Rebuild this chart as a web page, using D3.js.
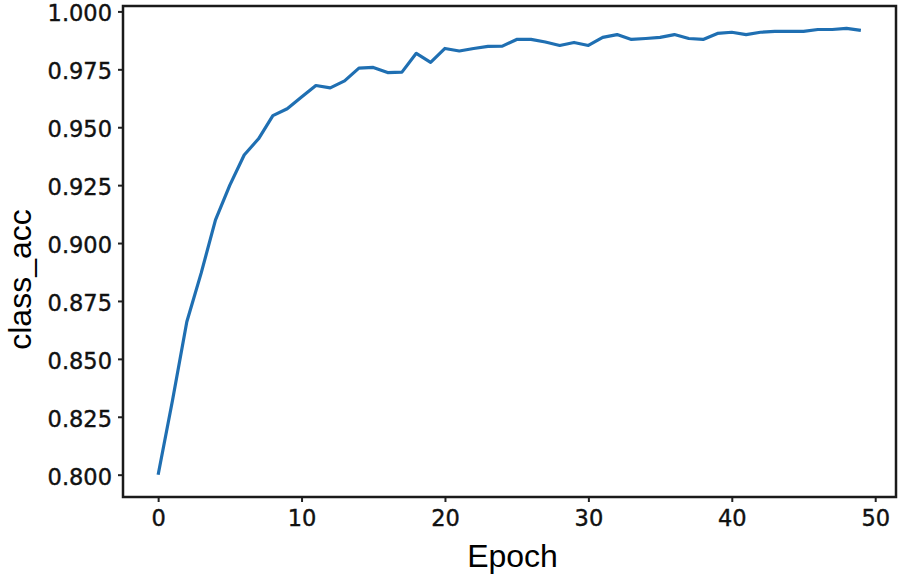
<!DOCTYPE html>
<html>
<head>
<meta charset="utf-8">
<script src="https://cdn.jsdelivr.net/npm/d3@7"></script>
<style>
  body { margin: 0; background: #fff; }
  .tick text { font-family: "DejaVu Sans", sans-serif; font-size: 22.5px; fill: #111; stroke: #111; stroke-width: 0.4px; }
  .lbl { font-family: "Liberation Sans", Arial, sans-serif; font-size: 32px; fill: #000; }
</style>
</head>
<body>
<div id="chart"></div>
<script>
// epoch numbers and accuracy per epoch
const epochs = d3.range(0, 50);
const classAcc = [
  0.800, 0.832, 0.866, 0.887, 0.910, 0.925, 0.938, 0.945, 0.955, 0.958,
  0.963, 0.968, 0.967, 0.970, 0.9755, 0.9758, 0.9736, 0.9738, 0.9819, 0.978,
  0.984, 0.9829, 0.984, 0.9849, 0.985, 0.9879, 0.9879, 0.9868, 0.9853, 0.9866,
  0.9853, 0.9888, 0.990, 0.9879, 0.9883, 0.9888, 0.990, 0.9883, 0.9879, 0.9905,
  0.991, 0.990, 0.991, 0.9914, 0.9914, 0.9914, 0.9922, 0.9922, 0.9927, 0.9918
];
const xTicks = [0, 10, 20, 30, 40, 50];
const yTicks = [0.800, 0.825, 0.850, 0.875, 0.900, 0.925, 0.950, 0.975, 1.000];

const W = 902, H = 579;
const margin = {top: 6, right: 6, bottom: 82, left: 123},
    width = W - margin.left - margin.right,
    height = H - margin.top - margin.bottom;

const svg = d3.select("#chart").append("svg").attr("width", W).attr("height", H);
const g = svg.append("g").attr("transform", `translate(${margin.left},${margin.top})`);

// matplotlib-style 5% padding on both axes
const xPad = (d3.max(epochs) - d3.min(epochs)) * 0.05;
const x = d3.scaleLinear().domain([d3.min(epochs) - xPad, d3.max(epochs) + xPad]).range([0, width]);
const yExt = d3.extent(classAcc), yPad = (yExt[1] - yExt[0]) * 0.05;
const y = d3.scaleLinear().domain([yExt[0] - yPad, yExt[1] + yPad]).range([height, 0]);

const xAxis = d3.axisBottom(x).tickValues(xTicks).tickFormat(d3.format("d")).tickSize(5).tickPadding(8);
const yAxis = d3.axisLeft(y).tickValues(yTicks).tickFormat(d3.format(".3f")).tickSize(5).tickPadding(6);

g.append("g").attr("class", "myXaxis").attr("transform", `translate(0,${height})`).call(xAxis);
g.append("g").attr("class", "myYaxis").call(yAxis);
g.selectAll(".myYaxis .tick text").attr("dy", "0.42em");
g.selectAll(".domain").remove();
g.selectAll(".tick line").attr("stroke", "#222").attr("stroke-width", 2);

// frame (all four spines)
g.append("rect").attr("width", width).attr("height", height)
  .attr("fill", "none").attr("stroke", "#1a1a1a").attr("stroke-width", 2.5);

g.append("path")
  .datum(classAcc)
  .attr("fill", "none")
  .attr("stroke", "#1f6fb2")
  .attr("stroke-width", 3.2)
  .attr("stroke-linejoin", "round")
  .attr("d", d3.line().x((d, i) => x(epochs[i])).y(d => y(d)));

svg.append("text").attr("class", "lbl").attr("text-anchor", "middle")
  .attr("x", margin.left + width / 2 + 3).attr("y", 567).text("Epoch");
svg.append("text").attr("class", "lbl").attr("text-anchor", "middle")
  .attr("transform", `translate(31,${margin.top + height / 2 + 28}) rotate(-90)`).text("class_acc");
</script>
</body>
</html>
